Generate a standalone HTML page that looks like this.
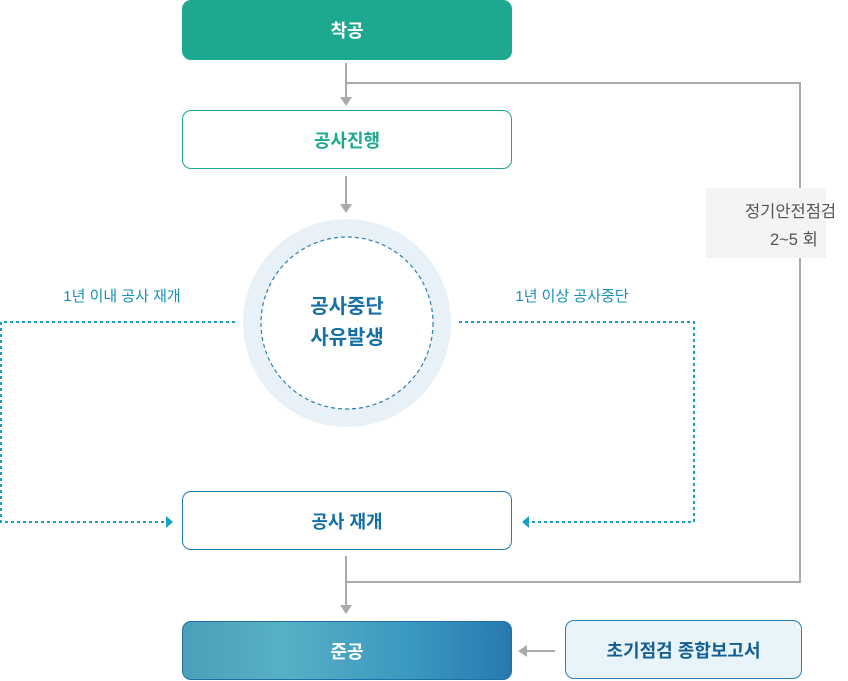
<!DOCTYPE html>
<html><head><meta charset="utf-8"><style>
body{margin:0;width:848px;height:681px;position:relative;background:#fff;font-family:"Liberation Sans","Noto Sans CJK KR",sans-serif;overflow:hidden}
.b{position:absolute;box-sizing:border-box;border-radius:9px;display:flex;align-items:center;justify-content:center;font-weight:bold;font-size:18px}
.t{position:absolute;white-space:nowrap}
</style></head><body>
<svg width="848" height="681" style="position:absolute;left:0;top:0">
<g stroke="#aaa" stroke-width="2" fill="none">
<path d="M346 63V99"/><path d="M346 83H800V582H346"/><path d="M346 176V205"/><path d="M346 556V607"/><path d="M555 651H526"/>
</g>
<g fill="#aaa"><path d="M340 97h12l-6 9z"/><path d="M340 204h12l-6 9z"/><path d="M340 605h12l-6 9z"/><path d="M527 645v12l-9-6z"/></g>
<circle cx="347" cy="323" r="104" fill="#e8f1f8"/>
<circle cx="347" cy="323" r="86" fill="#fff" stroke="#2a80b0" stroke-width="1.2" stroke-dasharray="4 3"/>
<g stroke="#18a0c0" stroke-width="2" fill="none" stroke-dasharray="3 3">
<path d="M235 322H1V522H166"/><path d="M459 322H694V522H530"/>
</g>
<g fill="#18a0c0"><path d="M166 516v12l7-6z"/><path d="M529 516v12l-7-6z"/></g>
</svg>
<div class="b" style="left:182px;top:0;width:330px;height:60px;background:#1fa890;color:#fff">착공</div>
<div class="b" style="left:182px;top:110px;width:330px;height:59px;border:1px solid #1fa890;color:#1fa890;background:#fff">공사진행</div>
<div class="t" style="left:247px;top:292px;width:200px;text-align:center;color:#1570a6;font-weight:bold;font-size:20px;line-height:31px">공사중단<br>사유발생</div>
<div class="t" style="left:22px;top:285px;width:200px;text-align:center;color:#1590b8;font-size:15px">1년 이내 공사 재개</div>
<div class="t" style="left:472px;top:285px;width:200px;text-align:center;color:#1590b8;font-size:15px">1년 이상 공사중단</div>
<div style="position:absolute;left:706px;top:188px;width:120px;height:70px;background:#f4f4f4"></div>
<div class="t" style="left:745px;top:198px;color:#555;font-size:16.5px;line-height:28px">정기안전점검<br><span style="margin-left:25px">2~5 회</span></div>
<div class="b" style="left:182px;top:491px;width:330px;height:59px;border:1px solid #1f7ab0;color:#1570a6;background:#fff">공사 재개</div>
<div class="b" style="left:182px;top:621px;width:330px;height:59px;background:linear-gradient(90deg,#4aa0b8,#58b0c4 30%,#3a98c0 70%,#2878b0);border:1px solid #2070a8;color:#fff">준공</div>
<div class="b" style="left:565px;top:620px;width:237px;height:59px;border:1px solid #2a80b8;color:#135f94;background:#e8f3fa">초기점검 종합보고서</div>
</body></html>
